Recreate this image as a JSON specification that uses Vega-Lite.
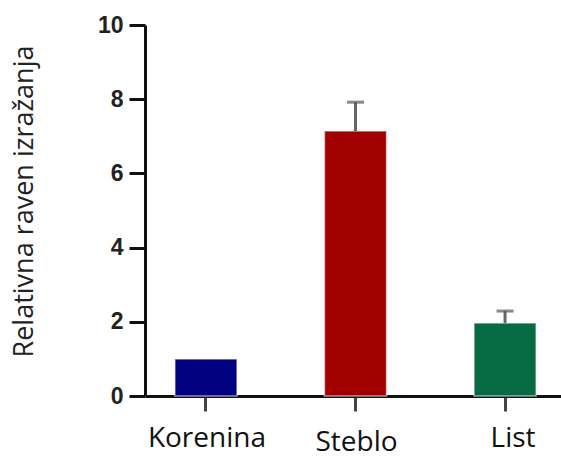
{
  "$schema": "https://vega.github.io/schema/vega-lite/v6.json",
  "autosize": {"type": "none"},
  "padding": {"left": 145, "top": 25, "right": 0, "bottom": 61},
  "width": 416,
  "height": 371,
  "background": "white",
  "config": {"view": {"stroke": null}},
  "data": {
    "values": [
      {"tissue": "Korenina", "value": 1.0, "upper": 1.0},
      {"tissue": "Steblo", "value": 7.14, "upper": 7.92},
      {"tissue": "List", "value": 1.97, "upper": 2.29}
    ]
  },
  "encoding": {
    "x": {
      "field": "tissue",
      "type": "nominal",
      "sort": ["Korenina", "Steblo", "List"],
      "scale": {"paddingInner": 0.585, "paddingOuter": 0.2, "range": [0, 421]},
      "axis": {
        "title": null,
        "labelAngle": 0,
        "labelFont": "Open Sans",
        "labelFontSize": 28,
        "labelColor": "#111",
        "labelPadding": {"condition": {"test": "datum.value === 'Steblo'", "value": 17}, "value": 13},
        "labelOffset": {"condition": {"test": "datum.value === 'List'", "value": 8}, "value": 1},
        "domainColor": "#111",
        "domainWidth": 3,
        "tickColor": "#444",
        "tickWidth": 3,
        "tickSize": 15
      }
    }
  },
  "layer": [
    {
      "mark": {"type": "bar", "stroke": "#ffffff", "strokeOpacity": 0.55, "strokeWidth": 1.5},
      "encoding": {
        "y": {
          "field": "value",
          "type": "quantitative",
          "scale": {"domain": [0, 10], "nice": false},
          "axis": {
            "values": [0, 2, 4, 6, 8, 10],
            "grid": false,
            "title": "Relativna raven izražanja",
            "titleFont": "Open Sans",
            "titleFontSize": 27,
            "titleFontWeight": "normal",
            "titleColor": "#222",
            "titleX": -121,
            "titleY": 176,
            "titleAngle": -90,
            "titleAlign": "center",
            "titleBaseline": "middle",
            "labelFont": "Liberation Sans",
            "labelFontSize": 23,
            "labelFontWeight": "bold",
            "labelColor": "#222",
            "labelPadding": 6,
            "domainColor": "#111",
            "domainWidth": 3,
            "tickColor": "#111",
            "tickWidth": 3,
            "tickSize": 16
          }
        },
        "color": {
          "field": "tissue",
          "type": "nominal",
          "scale": {"domain": ["Korenina", "Steblo", "List"], "range": ["#000080", "#a00000", "#066a43"]},
          "legend": null
        }
      }
    },
    {
      "transform": [{"filter": "datum.upper > datum.value"}],
      "mark": {"type": "rule", "color": "#666", "strokeWidth": 3},
      "encoding": {
        "y": {"field": "value", "type": "quantitative"},
        "y2": {"field": "upper"}
      }
    },
    {
      "transform": [{"filter": "datum.upper > datum.value"}],
      "mark": {"type": "tick", "color": "#555", "size": 17, "thickness": 3},
      "encoding": {
        "y": {"field": "upper", "type": "quantitative"}
      }
    }
  ]
}
